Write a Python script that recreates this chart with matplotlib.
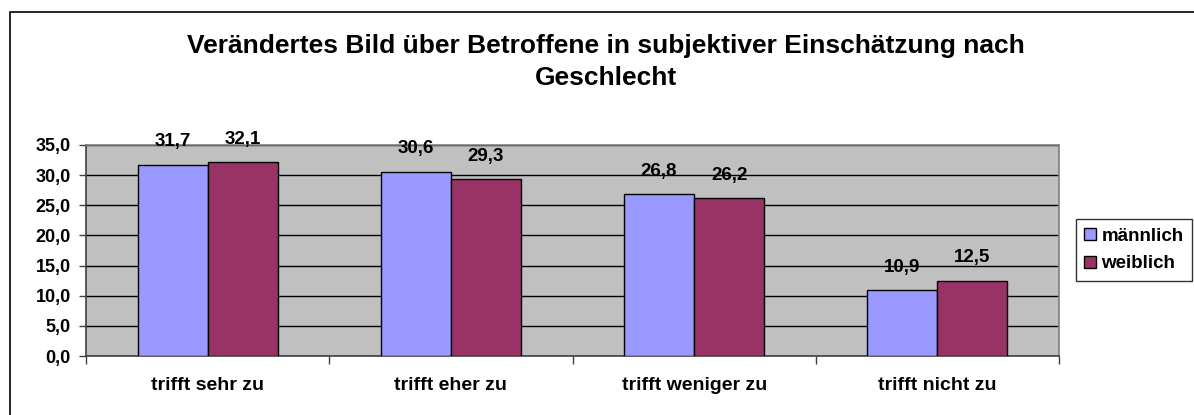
import matplotlib
matplotlib.use('Agg')
import matplotlib.pyplot as plt
import numpy as np
from matplotlib.patches import Rectangle

# Data
categories = ['trifft sehr zu', 'trifft eher zu', 'trifft weniger zu', 'trifft nicht zu']
maennlich = [31.7, 30.6, 26.8, 10.9]
weiblich = [32.1, 29.3, 26.2, 12.5]
series_names = ['männlich', 'weiblich']
colors = ['#9999FF', '#993366']
title = 'Verändertes Bild über Betroffene in subjektiver Einschätzung nach\nGeschlecht'

plt.rcParams['font.family'] = ['Liberation Sans', 'DejaVu Sans']
plt.rcParams['font.weight'] = 'bold'

fig = plt.figure(figsize=(11.94, 4.15), dpi=100)
ax = fig.add_axes([86 / 1194, 1 - 356 / 415, (1059 - 86) / 1194, (356 - 145) / 415])

# outer chart frame (cut off on right and bottom)
fig.patches.append(Rectangle((10 / 1194, -0.1), 1.2, 1 - 12 / 415 + 0.1,
                             transform=fig.transFigure, fill=False,
                             edgecolor='black', linewidth=1.2, zorder=0))

x = np.arange(len(categories))
w = 0.288
b1 = ax.bar(x - w / 2, maennlich, w, color=colors[0], edgecolor='black', linewidth=1, label=series_names[0], zorder=3)
b2 = ax.bar(x + w / 2, weiblich, w, color=colors[1], edgecolor='black', linewidth=1, label=series_names[1], zorder=3)

# value labels above the bars
for bars, vals in ((b1, maennlich), (b2, weiblich)):
    for rect, v in zip(bars, vals):
        ax.annotate(f'{v:.1f}'.replace('.', ','), (rect.get_x() + rect.get_width() / 2, v),
                    xytext=(0, 16.5), textcoords='offset points', ha='center', va='center',
                    fontsize=13.5, fontweight='bold')

ax.set_facecolor('#C0C0C0')
ax.set_xlim(-0.5, len(categories) - 0.5)
ax.set_ylim(0, 35)
ax.set_yticks(np.arange(0, 36, 5))
ax.set_yticklabels([f'{t:.1f}'.replace('.', ',') for t in np.arange(0, 36, 5)], fontsize=13, fontweight='bold')
ax.yaxis.grid(True, color='black', linewidth=1, zorder=0)
ax.set_axisbelow(True)

ax.set_xticks(np.arange(-0.5, len(categories), 1))
ax.set_xticklabels([])
ax.set_xticks(x, minor=True)
ax.set_xticklabels(categories, minor=True, fontsize=14, fontweight='bold')
ax.tick_params(axis='x', which='minor', length=0, pad=15)
ax.tick_params(axis='x', which='major', length=6, width=1, color='#404040')
ax.tick_params(axis='y', length=5, width=1, color='#404040', pad=6)

for s in ['top', 'right']:
    ax.spines[s].set_color('#808080')
for s in ['left', 'bottom']:
    ax.spines[s].set_color('#404040')
for s in ax.spines.values():
    s.set_linewidth(1.2)

fig.text(606 / 1194, 1 - 62 / 415, title, ha='center', va='center', fontsize=19,
         fontweight='bold', linespacing=1.45)

leg = fig.legend(handles=[b1, b2], labels=series_names, loc='center left',
                 bbox_to_anchor=(1076 / 1194, 1 - 250 / 415), frameon=True, fancybox=False,
                 edgecolor='black', fontsize=13.5, handlelength=0.6, handleheight=0.6,
                 handletextpad=0.3, borderpad=0.45, labelspacing=0.55, borderaxespad=0)
leg.get_frame().set_linewidth(1)

fig.savefig('out.png', dpi=100)
